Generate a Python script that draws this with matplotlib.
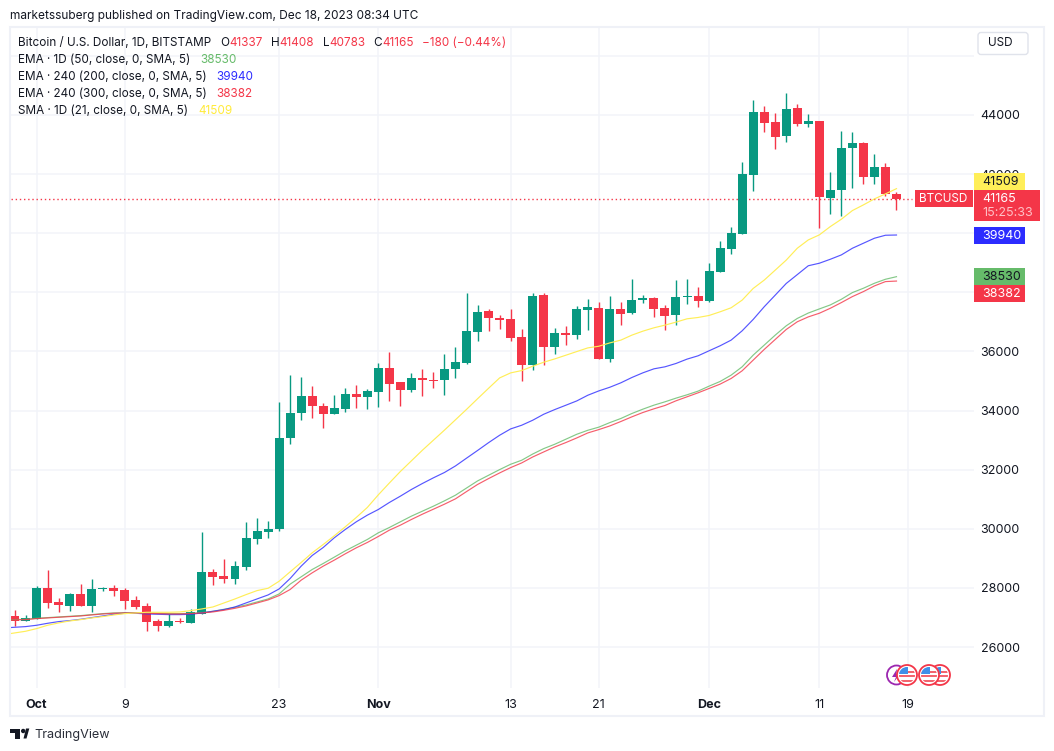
import matplotlib
matplotlib.use('Agg')
import matplotlib.pyplot as plt
from matplotlib.patches import Circle, FancyBboxPatch, Polygon, Rectangle
import numpy as np

plt.rcParams['font.family'] = ['Inter', 'DejaVu Sans']

# daily candles, Sep 29 -> Dec 18
opens = [27064, 26895, 26950, 28011, 27537, 27402, 27808, 27402, 27955, 28011, 27944, 27605,
         27402, 26895, 26725, 26895, 26827, 27131, 28553, 28417, 28316, 28722, 29669, 29906,
         30008, 33071, 33917, 34492, 34154, 33883, 34052, 34560, 34458, 34627, 35439, 34966,
         34695, 35101, 35033, 35033, 35406, 35609, 36658, 37368, 37131, 37098, 36489, 35541,
         37910, 36150, 36624, 36556, 37402, 37470, 35744, 37436, 37301, 37741, 37808, 37470,
         37233, 37842, 37876, 37707, 38687, 39465, 39973, 41970, 44102, 43763, 43289, 44237,
         43695, 43797, 41191, 41462, 42883, 43052, 41902, 42240, 41337]
closes = [26895, 26996, 28011, 27504, 27436, 27808, 27402, 27977, 28000, 27910, 27571, 27368,
          26861, 26725, 26895, 26861, 27199, 28553, 28384, 28316, 28756, 29703, 29940, 30008,
          33071, 33917, 34492, 34154, 33883, 34086, 34560, 34458, 34661, 35439, 34898, 34695,
          35101, 35033, 35011, 35406, 35642, 36692, 37334, 37131, 37064, 36455, 35541, 37876,
          36150, 36624, 36556, 37436, 37504, 35744, 37436, 37267, 37741, 37808, 37436, 37199,
          37842, 37876, 37707, 38721, 39499, 40007, 42003, 44102, 43729, 43255, 44203, 43695,
          43797, 41225, 41462, 42883, 43052, 41902, 42240, 41327, 41165]
highs = [27267, 27098, 28079, 28620, 27673, 27842, 28147, 28316, 28045, 28113, 28011, 27740,
         27504, 26962, 27131, 26996, 27300, 29906, 28654, 28993, 28925, 30245, 30380, 30279,
         34289, 35203, 35135, 34830, 34255, 34526, 34763, 34864, 34729, 35609, 35981, 34966,
         35270, 35406, 35304, 35913, 36150, 37977, 37571, 37436, 37233, 37436, 36759, 37977,
         37977, 36793, 36861, 37538, 37774, 37673, 37876, 37673, 38451, 37910, 37842, 37571,
         38417, 38451, 38180, 38992, 39736, 40210, 42410, 44508, 44305, 44068, 44744, 44372,
         44034, 43797, 42071, 43459, 43425, 43086, 42680, 42376, 41408]
lows = [26703, 26895, 26950, 27334, 27199, 27233, 27402, 27199, 27887, 27740, 27300, 27300,
        26556, 26556, 26692, 26827, 26827, 27131, 28113, 28180, 28147, 28620, 29500, 29703,
        29918, 32868, 33680, 33747, 33409, 33883, 33950, 34086, 34052, 34120, 34323, 34154,
        34627, 34492, 34763, 34526, 35101, 35575, 36353, 36692, 36759, 36353, 34999, 35372,
        35541, 35913, 36218, 36421, 36725, 35744, 35642, 36895, 37267, 37639, 37165, 36725,
        36895, 37605, 37504, 37661, 38687, 39296, 39973, 41428, 43425, 42849, 43086, 43628,
        43594, 40176, 40650, 40582, 41530, 41665, 41665, 41259, 40783]

# moving averages, first value is Sep 28 (just off the left edge)
sma_21 = [26421, 26477, 26534, 26624, 26737, 26816, 26883, 26928, 26985, 27030, 27086, 27131,
          27154, 27177, 27177, 27177, 27188, 27233, 27290, 27357, 27492, 27628, 27774, 27910,
          27989, 28226, 28545, 28861, 29188, 29470, 29763, 30068, 30384, 30722, 31150, 31550,
          31940, 32300, 32660, 33000, 33340, 33690, 34040, 34400, 34755, 35105, 35275, 35354,
          35500, 35636, 35748, 35872, 35997, 36121, 36177, 36290, 36384, 36553, 36688, 36801,
          36891, 36993, 37105, 37150, 37218, 37342, 37478, 37737, 38132, 38414, 38752, 39091,
          39492, 39774, 39944, 40226, 40474, 40767, 40959, 41162, 41331, 41509]
ema_200 = [26646, 26669, 26692, 26737, 26804, 26861, 26895, 26940, 26996, 27052, 27109, 27143,
           27143, 27120, 27109, 27098, 27098, 27109, 27154, 27210, 27267, 27357, 27492, 27628,
           27763, 27966, 28319, 28737, 29098, 29368, 29695, 29977, 30237, 30462, 30654, 30891,
           31105, 31331, 31534, 31726, 31906, 32128, 32390, 32650, 32915, 33165, 33380, 33504,
           33673, 33876, 34034, 34180, 34327, 34519, 34666, 34790, 34940, 35120, 35278, 35413,
           35481, 35594, 35741, 35853, 36023, 36192, 36384, 36699, 37083, 37512, 37906, 38301,
           38600, 38900, 38985, 39120, 39267, 39492, 39662, 39831, 39932, 39940]
ema_50 = [26917, 26928, 26940, 26974, 26996, 27019, 27041, 27064, 27098, 27131, 27154, 27165,
          27165, 27154, 27143, 27131, 27131, 27143, 27165, 27210, 27278, 27346, 27425, 27526,
          27628, 27797, 28128, 28376, 28624, 28827, 29041, 29255, 29447, 29639, 29865, 30045,
          30237, 30429, 30598, 30767, 30947, 31139, 31380, 31620, 31812, 32003, 32184, 32320,
          32530, 32714, 32861, 33030, 33199, 33334, 33440, 33594, 33733, 33902, 34049, 34184,
          34297, 34421, 34534, 34658, 34827, 34985, 35199, 35481, 35876, 36214, 36553, 36869,
          37117, 37300, 37439, 37575, 37766, 37992, 38139, 38308, 38443, 38530]
ema_300 = [26906, 26917, 26928, 26962, 26985, 27008, 27030, 27052, 27086, 27120, 27143, 27154,
           27154, 27143, 27131, 27120, 27120, 27131, 27154, 27188, 27244, 27312, 27391, 27492,
           27594, 27741, 27947, 28263, 28511, 28737, 28940, 29154, 29357, 29538, 29741, 29955,
           30124, 30316, 30496, 30665, 30834, 31015, 31260, 31500, 31700, 31890, 32071, 32229,
           32430, 32601, 32770, 32917, 33075, 33244, 33357, 33481, 33631, 33789, 33936, 34060,
           34173, 34331, 34466, 34601, 34748, 34895, 35086, 35346, 35707, 36068, 36406, 36744,
           37004, 37170, 37293, 37462, 37654, 37857, 38026, 38218, 38364, 38382]

grid_prices = [26000, 28000, 30000, 32000, 34000, 36000, 38000, 40000, 42000, 44000, 46000]
price_labels = ['26000', '28000', '30000', '32000', '34000', '36000', '38000', '40000', '42000', '44000', '']
date_ticks = [2, 10, 24, 33, 45, 53, 63, 73, 81]
date_labels = ['Oct', '9', '23', 'Nov', '13', '21', 'Dec', '11', '19']
month_labels = ['Oct', 'Nov', 'Dec']

UP = '#089981'
DOWN = '#F43648'
GRID = '#F2F4F9'
TEXT = '#131722'
YELLOW = '#FFEB3B'
BLUE = '#2C2CFF'
GREEN = '#66BB6A'
FS = 9.0
FS_LEGEND = 8.45

W, H = 1054, 751
fig = plt.figure(figsize=(W / 100, H / 100), dpi=100, facecolor='white')

# plot area in pixels: x 11..974, y 27..688
ax = fig.add_axes([11 / W, 1 - 688 / H, 963 / W, 661 / H])
ax.set_xlim(-0.3175, 87.03)
ax.set_ylim(24615, 46977)
for s in ax.spines.values():
    s.set_visible(False)

ax.set_yticks(grid_prices)
ax.set_yticklabels(price_labels, fontsize=FS, color=TEXT)
ax.yaxis.tick_right()
ax.set_xticks(date_ticks)
ax.set_xticklabels(date_labels, fontsize=FS, color=TEXT)
for lab in ax.get_xticklabels():
    if lab.get_text() in month_labels:
        lab.set_fontweight('bold')
ax.tick_params(axis='both', length=0)
ax.tick_params(axis='y', pad=4.8)
ax.tick_params(axis='x', pad=7.8)
ax.grid(True, color=GRID, linewidth=1.1)
ax.set_axisbelow(True)

days = np.arange(len(opens))
opens_a, closes_a = np.array(opens), np.array(closes)
colors = [UP if c >= o else DOWN for o, c in zip(opens_a, closes_a)]

ax.axhline(closes[-1], xmax=(81.4 + 0.3175) / 87.35, color=DOWN, linewidth=1.0, linestyle=(0, (1, 2)), zorder=1.5)
ax.vlines(days, lows, highs, colors=colors, linewidth=1.0, zorder=2)
ax.bar(days, np.abs(closes_a - opens_a), bottom=np.minimum(opens_a, closes_a), width=0.816, color=colors, linewidth=0, zorder=2.5)

ma_days = np.arange(-1, len(opens))
ax.plot(ma_days, ema_50, color=GREEN, linewidth=0.85, alpha=0.8, zorder=3)
ax.plot(ma_days, ema_200, color=BLUE, linewidth=0.85, alpha=0.8, zorder=3)
ax.plot(ma_days, ema_300, color=DOWN, linewidth=0.85, alpha=0.8, zorder=3)
ax.plot(ma_days, sma_21, color='#FFEE58', linewidth=0.85, zorder=3)

# everything around the chart, drawn in pixel coordinates
ov = fig.add_axes([0, 0, 1, 1], facecolor='none')
ov.set_xlim(0, W)
ov.set_ylim(H, 0)
ov.axis('off')
ov.add_patch(Rectangle((10, 26.5), 1034, 689, fill=False, edgecolor='#EFF1F7', linewidth=1.5))

ov.text(10, 15.8, 'marketssuberg published on TradingView.com, Dec 18, 2023 08:34 UTC', fontsize=8.55, color=TEXT, va='center')

renderer = fig.canvas.get_renderer()


def put_line(x, y, parts):
    for txt, col, gap in parts:
        t = ov.text(x, y, txt, fontsize=FS_LEGEND, color=col, va='center')
        x += t.get_window_extent(renderer).width + gap


put_line(18, 43.2, [('Bitcoin / U.S. Dollar, 1D, BITSTAMP', TEXT, 9),
                    ('O', TEXT, 0), (str(opens[-1]), DOWN, 8.5),
                    ('H', TEXT, 0), (str(highs[-1]), DOWN, 8.5),
                    ('L', TEXT, 0), (str(lows[-1]), DOWN, 8.5),
                    ('C', TEXT, 0), (str(closes[-1]), DOWN, 8.5),
                    ('\u2212180 (\u22120.44%)', DOWN, 0)])
put_line(18, 60.2, [('EMA \u00b7 1D (50, close, 0, SMA, 5)', TEXT, 10), (str(ema_50[-1]), GREEN, 0)])
put_line(18, 77.2, [('EMA \u00b7 240 (200, close, 0, SMA, 5)', TEXT, 10), (str(ema_200[-1]), BLUE, 0)])
put_line(18, 94.2, [('EMA \u00b7 240 (300, close, 0, SMA, 5)', TEXT, 10), (str(ema_300[-1]), DOWN, 0)])
put_line(18, 111.2, [('SMA \u00b7 1D (21, close, 0, SMA, 5)', TEXT, 10), (str(sma_21[-1]), YELLOW, 0)])

# USD button
ov.add_patch(FancyBboxPatch((978, 32.5), 50, 22, boxstyle='round,pad=0,rounding_size=3', facecolor='white', edgecolor='#E0E3EB', linewidth=1))
ov.text(1000, 43.5, 'USD', fontsize=FS_LEGEND, color=TEXT, ha='center', va='center')


def tag(x0, y0, w, h, col, txt, tc='white', pad=8, fs=FS):
    ov.add_patch(Rectangle((x0, y0), w, h, facecolor=col, edgecolor='none'))
    ov.text(x0 + pad, y0 + h / 2 + 0.5, txt, fontsize=fs, color=tc, va='center')


tag(974, 173.3, 51, 16.7, '#FFEE58', str(sma_21[-1]), TEXT)
tag(974, 227, 51, 17, BLUE, str(ema_200[-1]))
tag(974, 268, 51, 17, GREEN, str(ema_50[-1]), TEXT)
tag(974, 285, 51, 16.7, DOWN, str(ema_300[-1]))
tag(915, 190, 58, 17, DOWN, 'BTCUSD', pad=4.5, fs=FS_LEGEND)
ov.add_patch(Rectangle((974, 190), 66, 30.7, facecolor=DOWN, edgecolor='none'))
ov.text(982, 198.8, str(closes[-1]), fontsize=FS, color='white', va='center')
ov.text(982, 212.8, '15:25:33', fontsize=FS, color='#FFC0C6', va='center')

# event badges along the bottom
ov.add_patch(Circle((896.5, 675), 9.5, facecolor='white', edgecolor='#9C27B0', linewidth=1.3))
ov.add_patch(Polygon([(897, 669), (892, 677), (896, 677), (894, 682), (900, 674), (896.5, 674)], facecolor='#9C27B0', edgecolor='none'))
for cx in [940, 929, 907]:
    ring = Circle((cx, 675), 10, facecolor='white', edgecolor=DOWN, linewidth=1.3)
    ov.add_patch(ring)
    inner = Circle((cx, 675), 8, transform=ov.transData)
    for k in range(3):
        st = Rectangle((cx - 8, 670.5 + k * 4.5), 16, 2.4, facecolor='#F2656F', edgecolor='none')
        ov.add_patch(st)
        st.set_clip_path(inner)
    cant = Rectangle((cx - 8, 667), 9, 7, facecolor='#3F8FE8', edgecolor='none')
    ov.add_patch(cant)
    cant.set_clip_path(inner)

# footer logo
ov.add_patch(Polygon([(10, 728.5), (20.3, 728.5), (20.3, 738.5), (15.3, 738.5), (15.3, 733), (10, 733)], facecolor=TEXT, edgecolor='none'))
ov.add_patch(Circle((23.2, 731), 2.2, facecolor=TEXT, edgecolor='none'))
ov.add_patch(Polygon([(23.5, 738.5), (26, 728.5), (29.3, 728.5), (26.5, 738.5)], facecolor=TEXT, edgecolor='none'))
ov.text(34, 735, 'TradingView', fontsize=9.1, color='#2A2E39', va='center')

fig.savefig('out.png', dpi=100)
